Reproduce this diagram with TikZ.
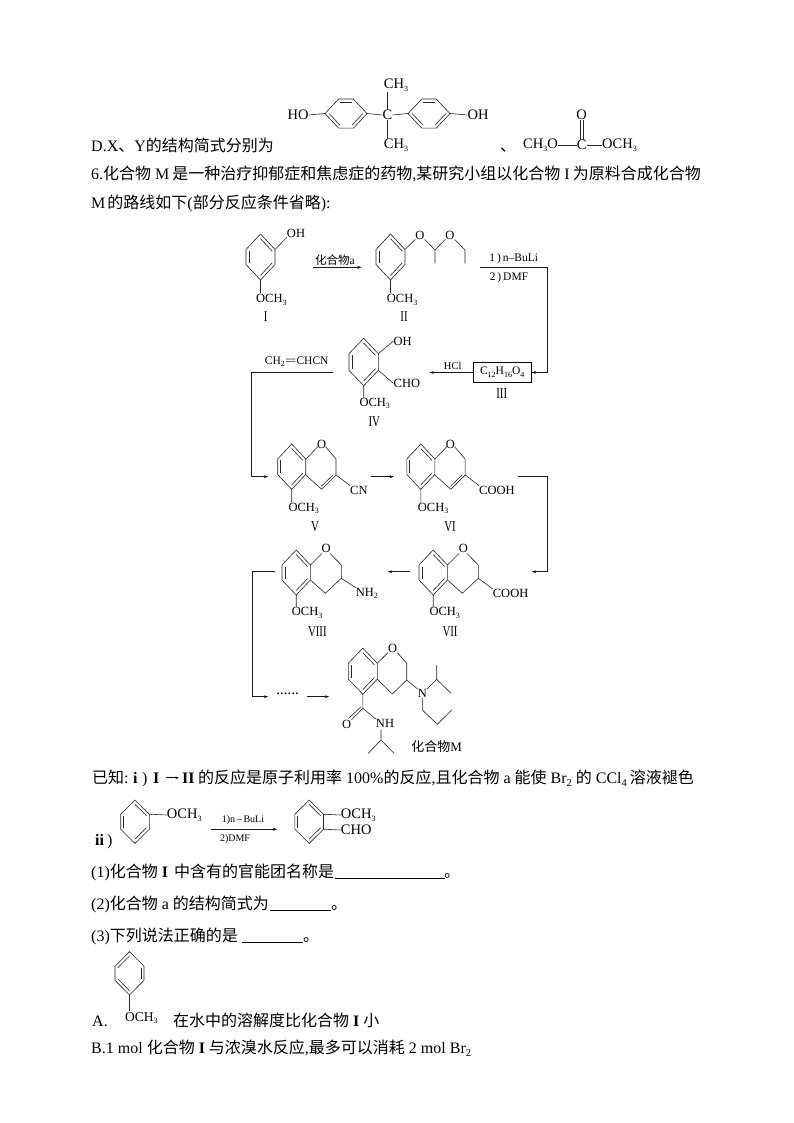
\documentclass[tikz,border=0pt]{standalone}
\usepackage{fontspec}
\usepackage{graphicx}
\setmainfont{Liberation Serif}
\newfontfamily\cjk{Noto Sans CJK SC}
\usetikzlibrary{calc,arrows.meta}
\newcommand{\C}[1]{{\cjk #1}}
\newcommand{\lowr}[1]{\raisebox{-2.6pt}{\fontsize{8}{8}\selectfont #1}}
\newcommand{\lowb}[1]{\raisebox{-3pt}{\fontsize{10.5}{10}\selectfont #1}}
\newcommand{\rn}[1]{\scalebox{.72}[1]{\fontsize{15}{15}\selectfont #1}}
\tikzset{
 bond/.style={line width=.6pt,draw=black!85},
 conn/.style={line width=.75pt,draw=black!90},
 arr/.style={conn,-{Stealth[length=4.5pt,width=3pt]}},
 body/.style={anchor=base west,inner sep=0pt,font=\fontsize{16}{18}\selectfont},
 bold/.style={body,font=\fontsize{16}{18}\selectfont\bfseries},
 chem/.style={inner sep=0pt,font=\fontsize{12.5}{14}\selectfont},
 cheml/.style={chem,anchor=west},
 big/.style={inner sep=0pt,anchor=west,font=\fontsize{14.5}{16}\selectfont},
 bigc/.style={inner sep=0pt,font=\fontsize{14.5}{16}\selectfont},
 tiny/.style={inner sep=0pt,font=\fontsize{10}{12}\selectfont},
 reag/.style={inner sep=0pt,font=\fontsize{11.5}{13}\selectfont},
}
\newcommand{\hexv}[6]{%
 \begin{scope}[shift={(#1,#2)}]
 \coordinate (v0) at (0,-#4); \coordinate (v1) at (#3,-#5); \coordinate (v2) at (#3,#5);
 \coordinate (v3) at (0,#4); \coordinate (v4) at (-#3,#5); \coordinate (v5) at (-#3,-#5);
 \draw[bond] (v0)--(v1)--(v2)--(v3)--(v4)--(v5)--cycle;
 \foreach \s/\e in {#6}{\draw[bond] ($(v\s)!.2!(0,0)$)--($(v\e)!.2!(0,0)$);}
 \end{scope}}
\newcommand{\hexh}[6]{%
 \begin{scope}[shift={(#1,#2)}]
 \coordinate (v0) at (-#3,0); \coordinate (v1) at (-#5,-#4); \coordinate (v2) at (#5,-#4);
 \coordinate (v3) at (#3,0); \coordinate (v4) at (#5,#4); \coordinate (v5) at (-#5,#4);
 \draw[bond] (v0)--(v1)--(v2)--(v3)--(v4)--(v5)--cycle;
 \foreach \s/\e in {#6}{\draw[bond] ($(v\s)!.2!(0,0)$)--($(v\e)!.2!(0,0)$);}
 \end{scope}}
\newcommand{\pyrA}[2]{%
 \begin{scope}[shift={(#1,#2)}]
 \draw[bond] (14,-7.4)--(26,-20) (33.8,-20)--(44.3,-7.6)--(44.3,8.3)--(30,22.6)--(14,8.3);
 \draw[bond] (41,8.6)--(29.6,19.6);
 \end{scope}}
\newcommand{\pyrB}[2]{%
 \begin{scope}[shift={(#1,#2)}]
 \draw[bond] (14.2,-7.5)--(25.8,-19) (33.8,-19)--(45.1,-7.5)--(45.1,5.8)--(29.1,20.8)--(14.2,7.5);
 \end{scope}}
\begin{document}
\begin{tikzpicture}[x=1pt,y=-1pt]
\useasboundingbox (0,0) rectangle (794,1123);
\fill[white] (0,0) rectangle (794,1123);
% ---------- top text
\node[body] (t1) at (91,152) {D.X\C{、}Y\C{的结构简式分别为}};
\node[body] (t2) at (91,180) {6.\C{化合物} M\kern3pt\C{是一种治疗抑郁症和焦虑症的药物},\C{某研究小组以化合物} I\kern3pt\C{为原料合成化合物}};
\node[body] (t3) at (91,209) {M\kern2pt\C{的路线如下}(\C{部分反应条件省略}):};
% ---------- bisphenol
\hexh{346}{113.6}{21}{14.6}{7.4}{1/2,3/4,5/0}
\hexh{429}{113.6}{21}{14.6}{7.2}{1/2,3/4,5/0}
\node[bigc] (ho) at (298,115) {HO};
\node[bigc] (oh) at (478,115) {OH};
\node[bigc] (cc) at (387.5,115) {C};
\node[bigc] (ca) at (396,85) {CH\lowr{3}};
\node[bigc] (cb) at (396,145) {CH\lowr{3}};
\draw[bond] (ho.east)--(325,113.5) (367,113.5)--(cc.west) (cc.east)--(408,113.5) (450,113.5)--(oh.west);
\draw[bond] (387.5,92)--(cc.north) (cc.south)--(387.5,139);
\node[body] (dun) at (500,152) {\C{、}};
\node[big] (me) at (523,145) {CH\lowr{3}O};
\node[bigc] (cc2) at (581.7,145) {C};
\node[bigc] (oo) at (581.7,115) {O};
\node[big] (ome) at (602,145) {OCH\lowr{3}};
\draw[bond] (me.east)--(cc2.west) (cc2.east)--(ome.west);
\draw[bond] ($(oo.south)+(-1.5,0)$)--($(cc2.north)+(-1.5,0)$) ($(oo.south)+(1.5,0)$)--($(cc2.north)+(1.5,0)$);
% ---------- I
\hexv{260.5}{257}{14.5}{23}{7.5}{0/1,2/3,4/5}
\node[chem] (i1) at (296,233) {OH};
\node[cheml] (i2) at (256,300) {OCH\lowr{3}};
\node[chem] (il) at (265.7,317) {\rn{I}};
\draw[bond] (275,249.5)--(i1.south west) (260.5,280)--(260.5,293);
% ---------- arrow I->II
\coordinate (a1s) at (313.3,267.3); \coordinate (a1e) at (361.7,267.3);
\draw[arr] (a1s)--(a1e);
\node[reag] (a1l) at (335,260) {\C{化合物}a};
% ---------- II
\hexv{390.5}{257}{14.5}{23}{7.5}{0/1,2/3,4/5}
\node[cheml] (ii2) at (386.7,300) {OCH\lowr{3}};
\node[chem] (iio) at (420,235) {O};
\node[chem] (iio2) at (450,235) {O};
\node[chem] (iil) at (404,317) {\rn{II}};
\draw[bond] (390.5,280)--(390.5,293);
\draw[bond] (405,249.5)--(iio.south west) (iio.south east)--(435,250)--(iio2.south west) (435,250)--(435,263.3);
\draw[bond] (iio2.south east)--(465,250)--(465,263.3);
% ---------- to III
\node[draw=black,line width=.8pt,inner sep=0pt,minimum width=57.7pt,minimum height=19.6pt,font=\fontsize{11.5}{13}\selectfont] (box) at (502.2,372.5) {C\lowr{12}H\lowr{16}O\lowr{4}};
\node[chem] (bl) at (501.7,394) {\rn{III}};
\coordinate (a2s) at (480,267.3); \coordinate (a2c) at (547.3,267.3);
\draw[arr] (a2s)--(a2c)--(a2c |- box.east)--(box.east);
\node[reag] (r1) at (513.7,258.3) {1\,)\,n–BuLi};
\node[reag] (r2) at (509,277.3) {2\,)\,DMF};
% ---------- IV
\coordinate (a3e) at (429.3,372.5);
\draw[arr] (box.west)--(a3e);
\node[tiny,font=\fontsize{10.5}{12}\selectfont] (hcl) at (452.7,365.5) {HCl};
\hexv{363.7}{362}{14.7}{23.7}{8.3}{0/1,2/3,4/5}
\node[cheml] (iv1) at (393.5,341) {OH};
\node[cheml] (iv2) at (393.5,383.5) {CHO};
\node[cheml] (iv3) at (359.3,403.3) {OCH\lowr{3}};
\node[chem] (ivl) at (374.3,421.7) {\rn{IV}};
\draw[bond] (378.3,353.7)--(iv1.west) (378.3,370.2)--(iv2.west) (363.7,385.7)--(363.7,398);
% ---------- to V
\coordinate (a4s) at (332.7,372); \coordinate (a4c) at (251.7,372); \coordinate (a4e) at (268.3,476.7);
\draw[arr] (a4s)--(a4c)--(a4c |- a4e)--(a4e);
\node[font=\fontsize{11.5}{13}\selectfont,inner sep=0pt] (acr) at (296.7,361.7) {CH\lowr{2}\scalebox{1.8}[1]{=}CHCN};
% ---------- V
\hexv{291.7}{466.7}{14}{22.7}{7.8}{0/1,2/3,4/5}
\pyrA{291.7}{466.7}
\node[chem] (vo) at (321.7,444) {O};
\node[cheml] (vcn) at (350,490) {CN};
\node[cheml] (v3) at (288.3,508.3) {OCH\lowr{3}};
\node[chem] (vl) at (315,526.7) {\rn{V}};
\draw[bond] (336,474.9)--(vcn.north west) (291.7,489.4)--(291.7,502.5);
% ---------- arrow V->VI
\coordinate (a5s) at (371,476.7); \coordinate (a5e) at (394,476.7);
\draw[arr] (a5s)--(a5e);
% ---------- VI
\hexv{420.8}{466.7}{14}{22.7}{7.8}{0/1,2/3,4/5}
\pyrA{420.8}{466.7}
\node[chem] (vio) at (450.5,444) {O};
\node[cheml] (vi1) at (479,490) {COOH};
\node[cheml] (vi3) at (417.7,508.3) {OCH\lowr{3}};
\node[chem] (vil) at (450,526.7) {\rn{VI}};
\draw[bond] (465.1,474.9)--(vi1.north west) (420.8,489.4)--(420.8,502.5);
% ---------- to VII
\coordinate (a6s) at (518.3,476.7); \coordinate (a6c) at (547.3,476.7); \coordinate (a6e) at (531.7,571.7);
\draw[arr] (a6s)--(a6c)--(a6c |- a6e)--(a6e);
% ---------- VII
\hexv{433.2}{572.5}{14.2}{22.5}{7.5}{0/1,2/3,4/5}
\pyrB{433.2}{572.5}
\node[chem] (viio) at (463.3,548.3) {O};
\node[cheml] (vii1) at (492.7,593.3) {COOH};
\node[cheml] (vii3) at (429.3,612.7) {OCH\lowr{3}};
\node[chem] (viil) at (450,631.7) {\rn{VII}};
\draw[bond] (478.3,578.3)--(vii1.north west) (433.2,595)--(433.2,607);
% ---------- arrow VII->VIII
\coordinate (a7s) at (410,571.7); \coordinate (a7e) at (387.7,571.7);
\draw[arr] (a7s)--(a7e);
% ---------- VIII
\hexv{296.2}{572.5}{14.2}{22.5}{7.5}{0/1,2/3,4/5}
\pyrB{296.2}{572.5}
\node[chem] (viiio) at (326.2,548.3) {O};
\node[cheml] (viii1) at (355.7,593.3) {NH\lowr{2}};
\node[cheml] (viii3) at (291.7,612.7) {OCH\lowr{3}};
\node[chem] (viiil) at (317.3,631.7) {\rn{VIII}};
\draw[bond] (341.3,578.3)--(viii1.north west) (296.2,595)--(296.2,607);
% ---------- to M
\coordinate (a8s) at (275,571.7); \coordinate (a8c) at (252.3,571.7); \coordinate (a8e) at (268.3,696.7);
\draw[arr] (a8s)--(a8c)--(a8c |- a8e)--(a8e);
\node[inner sep=0pt,font=\fontsize{15}{15}\selectfont] (dots) at (287.5,693.5) {......};
\coordinate (a9s) at (306.7,696.7); \coordinate (a9e) at (329.3,696.7);
\draw[arr] (a9s)--(a9e);
% ---------- M
\hexv{362.8}{671.2}{14.5}{23}{8}{0/1,2/3,4/5}
\node[chem] (mo) at (392.7,648.3) {O};
\node[chem] (mn) at (422.3,693.3) {N};
\node[chem] (mco) at (346.7,724.3) {O};
\node[chem] (mnh) at (385,723.3) {NH};
\node[tiny,font=\fontsize{13}{14}\selectfont] (ml) at (436.7,746.7) {\C{化合物}M};
\draw[bond] (377.3,663.2)--(mo.south west) (mo.south east)--(406.7,663.3)--(406.7,680)--(392.3,694)--(377.3,679.2);
\draw[bond] (406.7,680)--(mn.north west) (mn.north east)--(436.7,679.3)--(436.7,665) (436.7,679.3)--(451,693.3);
\draw[bond] (mn.south)--(422.3,710)--(437.3,724.3)--(451.7,710);
\draw[bond] (362.8,694.2)--(362.8,708.3)--(mco.north east) (361,706.8)--(348.5,718.5);
\draw[bond] (362.8,708.3)--(mnh.north west);
\draw[bond] (381,729.5)--(381,740)--(368.3,753.3) (381,740)--(394,753.3);
% ---------- known
\node[body] (k1) at (92,783) {\C{已知}:};
\node[bold] (k2) at (133,783) {i};
\node[body] (k3) at (142,783) {)};
\node[bold] (k4) at (153,783) {I};
\node[bold] (k5) at (182,783) {II};
\draw[line width=.6pt,-{Stealth[length=3.5pt,width=2.5pt]}] ($(k4.east)+(6,0)$)--($(k5.west)+(-3,0)$);
\node[body] (k6) at (198,783) {\C{的反应是原子利用率} 100\%\C{的反应},\C{且化合物} a \C{能使} Br\lowb{2} \C{的} CCl\lowb{4} \kern-1pt\C{溶液褪色}};
\node[bold] (k7) at (95,845) {ii};
\node[body] (k8) at (107,845) {)};
\hexv{135}{821.7}{14.3}{21.7}{7.5}{0/1,2/3,4/5}
\node[big] (k9) at (166.7,815) {OCH\lowr{3}};
\draw[bond] (149.3,814.2)--(k9.west);
\coordinate (a10s) at (210.7,829.3); \coordinate (a10e) at (277.3,829.3);
\draw[arr] (a10s)--(a10e);
\node[tiny] (k10) at (243,820) {1)n\,–\,BuLi};
\node[tiny] (k11) at (235,839) {2)DMF};
\hexv{309.2}{821.7}{14.3}{21.7}{7.5}{0/1,2/3,4/5}
\node[big] (k12) at (340.7,815) {OCH\lowr{3}};
\node[big] (k13) at (340.7,830) {CHO};
\draw[bond] (323.5,814.2)--(k12.west) (323.5,829.2)--(k13.west);
% ---------- questions
\node[body] (q1) at (91,877) {(1)\C{化合物} \textbf{I} \kern2pt\C{中含有的官能团名称是}};
\coordinate (q1s) at (334.5,878); \coordinate (q1e) at (444.5,878);
\draw[line width=.7pt] (q1s)--(q1e);
\node[body] (q1d) at (444,877) {\C{。}};
\node[body] (q2) at (91,909) {(2)\C{化合物} a \C{的结构简式为}};
\coordinate (q2s) at (270,910); \coordinate (q2e) at (331,910);
\draw[line width=.7pt] (q2s)--(q2e);
\node[body] (q2d) at (331,909) {\C{。}};
\node[body] (q3) at (91,941) {(3)\C{下列说法正确的是}};
\coordinate (q3s) at (242,942); \coordinate (q3e) at (303,942);
\draw[line width=.7pt] (q3s)--(q3e);
\node[body] (q3d) at (303,941) {\C{。}};
\node[body] (o1) at (92,1026) {A.};
\hexv{129.5}{973.3}{14.5}{21.7}{7}{5/0,1/2,3/4}
\node[inner sep=0pt,anchor=west,font=\fontsize{13.5}{15}\selectfont] (o2) at (125,1018) {OCH\lowr{3}};
\draw[bond] (129.5,995)--(129.5,1011);
\node[body] (o3) at (173,1026) {\C{在水中的溶解度比化合物} \textbf{I} \C{小}};
\node[body] (o4) at (91,1053) {B.1 mol \C{化合物} \textbf{I} \C{与浓溴水反应},\C{最多可以消耗} 2 mol Br\lowb{2}};
\end{tikzpicture}
\end{document}
